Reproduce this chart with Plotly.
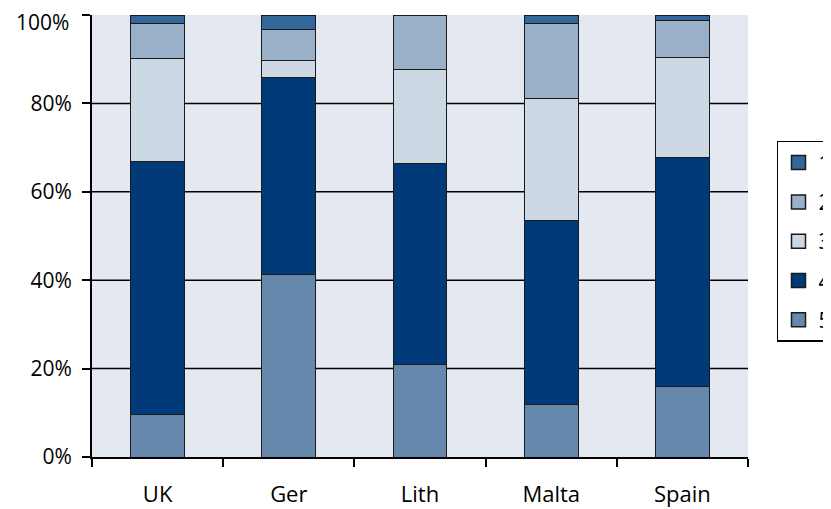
import plotly.graph_objects as go

countries = ["UK", "Ger", "Lith", "Malta", "Spain"]
# percentage shares per response level (stacked bottom to top: 5,4,3,2,1)
level5 = [9.6, 41.4, 21.0, 11.9, 15.9]
level4 = [57.2, 44.5, 45.3, 41.6, 51.8]
level3 = [23.3, 3.7, 21.4, 27.7, 22.7]
level2 = [8.0, 7.2, 12.3, 16.9, 8.3]
level1 = [1.9, 3.2, 0.0, 1.9, 1.3]
y_ticks = [0, 20, 40, 60, 80, 100]
y_tick_labels = ["0%", "20%", "40%", "60%", "80%", "100%"]

series = [
    ("5", level5, "#6688ad"),
    ("4", level4, "#003a78"),
    ("3", level3, "#ccd8e3"),
    ("2", level2, "#9ab0c8"),
    ("1", level1, "#336699"),
]

FAM = "Open Sans, Lato, sans-serif"
font = dict(family=FAM, size=21, color="#000")
xfont = dict(family=FAM, size=22, color="#000")

fig = go.Figure()
for name, vals, col in series:
    fig.add_trace(go.Bar(
        x=countries, y=vals, name=name, showlegend=False,
        marker=dict(color=col, line=dict(color="#1a1a1a", width=1)),
        width=0.41,
    ))

# legend entries (square swatches), listed 1..5 top to bottom
for name, vals, col in reversed(series):
    fig.add_trace(go.Scatter(
        x=[None], y=[None], mode="markers", name=name, legendgroup=name,
        marker=dict(symbol="square", size=14, color=col,
                    line=dict(color="#1a1a1a", width=1.5)),
    ))

shapes = [dict(type="line", xref="paper", x0=0, x1=1, yref="y", y0=v, y1=v,
               line=dict(color="#000", width=1.5), layer="below")
          for v in y_ticks[1:-1]]

# top tick label sits slightly below its tick (kept inside the page)
tick_text = y_tick_labels[:-1] + [""]
annotations = [dict(xref="paper", x=0, yref="y", y=y_ticks[-1],
                    text=y_tick_labels[-1], showarrow=False,
                    xanchor="right", yanchor="middle", xshift=-21, yshift=-7,
                    font=font)]

fig.update_layout(
    barmode="stack",
    width=823, height=501,
    margin=dict(l=84, r=83, t=7, b=52, autoexpand=False),
    paper_bgcolor="white",
    plot_bgcolor="#e4e9f1",
    font=font,
    shapes=shapes,
    annotations=annotations,
    showlegend=True,
    legend=dict(
        traceorder="grouped",
        tracegroupgap=9,
        x=1.0442, xanchor="left", y=0.715, yanchor="top",
        bordercolor="#000", borderwidth=1.5, bgcolor="white",
        font=dict(family=FAM, size=21, color="#000"),
    ),
    xaxis=dict(
        tickson="boundaries", ticks="outside", ticklen=8, tickwidth=1.5,
        tickcolor="#000", showline=True, linecolor="#000", linewidth=2,
        showgrid=False, tickfont=xfont, automargin=False,
        ticklabelstandoff=17,
    ),
    yaxis=dict(
        range=[0, 100], tickmode="array", tickvals=y_ticks,
        ticktext=tick_text, ticks="outside",
        ticklen=8, tickwidth=1.5, tickcolor="#000", showline=True,
        linecolor="#000", linewidth=2, showgrid=False, zeroline=False,
        tickfont=font, automargin=False, ticklabelstandoff=6,
        ticklabeloverflow="allow",
    ),
)

fig.write_html("out.html")
